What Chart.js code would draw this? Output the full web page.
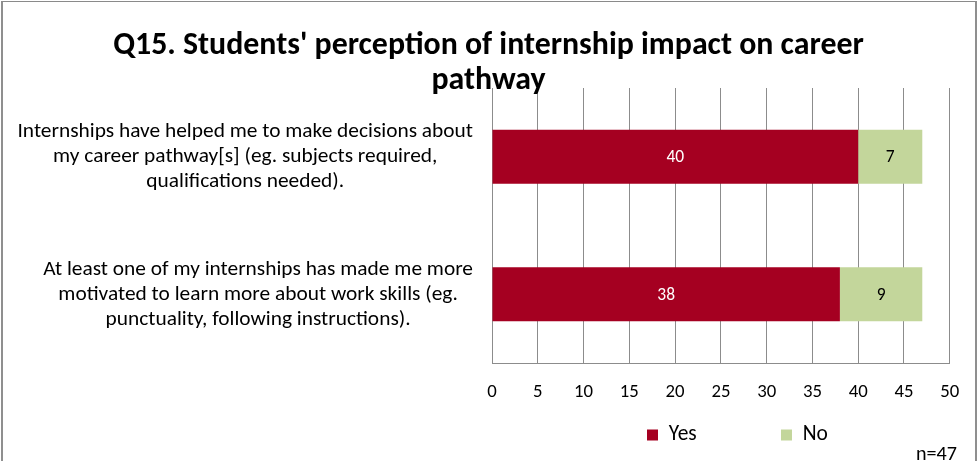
<!DOCTYPE html>
<html>
<head>
<meta charset="utf-8">
<script src="https://cdn.jsdelivr.net/npm/chart.js@4.4.1/dist/chart.umd.min.js"></script>
<style>
html,body{margin:0;padding:0;background:#fff;overflow:hidden;width:977px;height:461px}
#c{position:absolute;left:0;top:0}
#frame{position:absolute;left:1px;top:1px;width:972px;height:480px;border-left:2px solid #8f8f8f;border-right:2px solid #8f8f8f;border-top:1px solid #8a8a8a;pointer-events:none}
</style>
</head>
<body>
<canvas id="c" width="977" height="461"></canvas>
<div id="frame"></div>
<script>
// ---- data ----
const categories = [
  ["Internships have helped me to make decisions about", "my career pathway[s] (eg. subjects required,", "qualifications needed)."],
  ["At least one of my internships has made me more", "motivated to learn more about work skills (eg.", "punctuality, following instructions)."]
];
const seriesNames = ["Yes", "No"];
const yesValues = [40, 38];
const noValues = [7, 9];
const titleLines = ["Q15. Students' perception of internship impact on career", "pathway"];
const xMin = 0;
const xMax = 50;
const xStep = 5;
const noteText = "n=47";

// ---- style ----
const seriesColors = ["#A50021", "#C3D69B"];
const valueColors = ["#ffffff", "#000000"];
const gridColor = "#8c8c8c";
const FAMILY = "Carlito, Lato, sans-serif";

const mctx = document.createElement('canvas').getContext('2d');
function fitSize(text, weight, target) {
  mctx.font = weight + " 100px " + FAMILY;
  return 100 * target / mctx.measureText(text).width;
}
const titleSize = fitSize(titleLines[0], "bold", 751);
const catSize = fitSize(categories[0][0], "normal", 456);
const tickSize = fitSize("50", "normal", 19);
const legendSize = fitSize("Yes", "normal", 28);
const valueSize = fitSize("40", "normal", 17.7);
const noteSize = fitSize(noteText, "normal", 41);
const legendPad = 134 - 11 - legendSize / 2 - 28;

const valueLabels = {
  id: 'valueLabels',
  afterDatasetsDraw(chart) {
    const ctx = chart.ctx;
    ctx.save();
    ctx.font = valueSize + "px " + FAMILY;
    ctx.textAlign = 'center';
    ctx.textBaseline = 'middle';
    chart.data.datasets.forEach((ds, i) => {
      const meta = chart.getDatasetMeta(i);
      if (meta.hidden) return;
      meta.data.forEach((bar, j) => {
        const p = bar.getProps(['x', 'y', 'base'], true);
        ctx.fillStyle = valueColors[i];
        ctx.fillText(String(ds.data[j]), (p.x + p.base) / 2, p.y + 1);
      });
    });
    ctx.restore();
  }
};

const noteLabel = {
  id: 'noteLabel',
  afterDraw(chart) {
    const ctx = chart.ctx;
    ctx.save();
    ctx.font = noteSize + "px " + FAMILY;
    ctx.fillStyle = '#000';
    ctx.textAlign = 'right';
    ctx.textBaseline = 'middle';
    ctx.fillText(noteText, 957, 455);
    ctx.restore();
  }
};

// each multi-line category label: lines centred, block right-aligned to the axis
const rightAlignBlocks = {
  id: 'rightAlignBlocks',
  beforeDraw(chart) {
    const s = chart.scales.y;
    const items = s.getLabelItems();
    if (items._shifted) return;
    mctx.font = catSize + "px " + FAMILY;
    const widths = items.map(it => Math.max(...[].concat(it.label).map(l => mctx.measureText(l).width)));
    const widest = Math.max(...widths);
    items.forEach((it, i) => { it.options.translation[0] += (widest - widths[i]) / 2; });
    items._shifted = true;
  }
};

const placeBoxes = {
  id: 'placeBoxes',
  afterLayout(chart) {
    const t = chart.titleBlock;
    if (t) { t.left = 0; t.right = 977; t.width = 977; }
    const lg = chart.legend;
    if (lg && lg.lineWidths) {
      const h = lg.bottom - lg.top;
      const sum = 2 * 647 - legendPad + lg.lineWidths[0];
      const w = lg.right - lg.left;
      lg.left = sum / 2 - w / 2;
      lg.right = sum / 2 + w / 2;
      lg.top = 435 - legendSize / 2 - legendPad;
      lg.bottom = lg.top + h;
    }
  }
};

new Chart(document.getElementById('c'), {
  type: 'bar',
  data: {
    labels: categories,
    datasets: [
      { label: seriesNames[0], data: yesValues, backgroundColor: seriesColors[0], borderWidth: 0 },
      { label: seriesNames[1], data: noValues, backgroundColor: seriesColors[1], borderWidth: 0 }
    ]
  },
  options: {
    indexAxis: 'y',
    responsive: false,
    devicePixelRatio: 1,
    animation: false,
    barPercentage: 0.393,
    categoryPercentage: 1.0,
    layout: { padding: { left: 6, right: 27, top: 0, bottom: -(legendSize + legendPad + 10) } },
    scales: {
      x: {
        type: 'linear', stacked: true, min: xMin, max: xMax,
        ticks: { stepSize: xStep, color: '#000', font: { family: FAMILY, size: tickSize }, padding: 29 - 0.6 * tickSize, maxRotation: 0 },
        grid: { color: gridColor, lineWidth: 1, drawTicks: false },
        border: { display: true, color: gridColor, width: 1 },
        afterFit(s) { s.height = 98; }
      },
      y: {
        type: 'category', stacked: true,
        grid: { display: false, drawTicks: false },
        border: { display: true, color: gridColor, width: 1 },
        ticks: { color: '#000', autoSkip: false, crossAlign: 'center', padding: 19,
                 font: { family: FAMILY, size: catSize, lineHeight: 25 / catSize } },
        afterFit(s) { s.width = 486; }
      }
    },
    plugins: {
      title: {
        display: true, text: titleLines, color: '#000',
        font: { family: FAMILY, size: titleSize, weight: 'bold', lineHeight: 35 / titleSize },
        padding: { top: 29, bottom: -11 }
      },
      legend: {
        position: 'bottom', align: 'center', fullSize: false,
        labels: { boxWidth: 11, boxHeight: 11, padding: legendPad, color: '#000',
                  font: { family: FAMILY, size: legendSize } }
      },
      tooltip: { enabled: false }
    }
  },
  plugins: [valueLabels, noteLabel, rightAlignBlocks, placeBoxes]
});
</script>
</body>
</html>
